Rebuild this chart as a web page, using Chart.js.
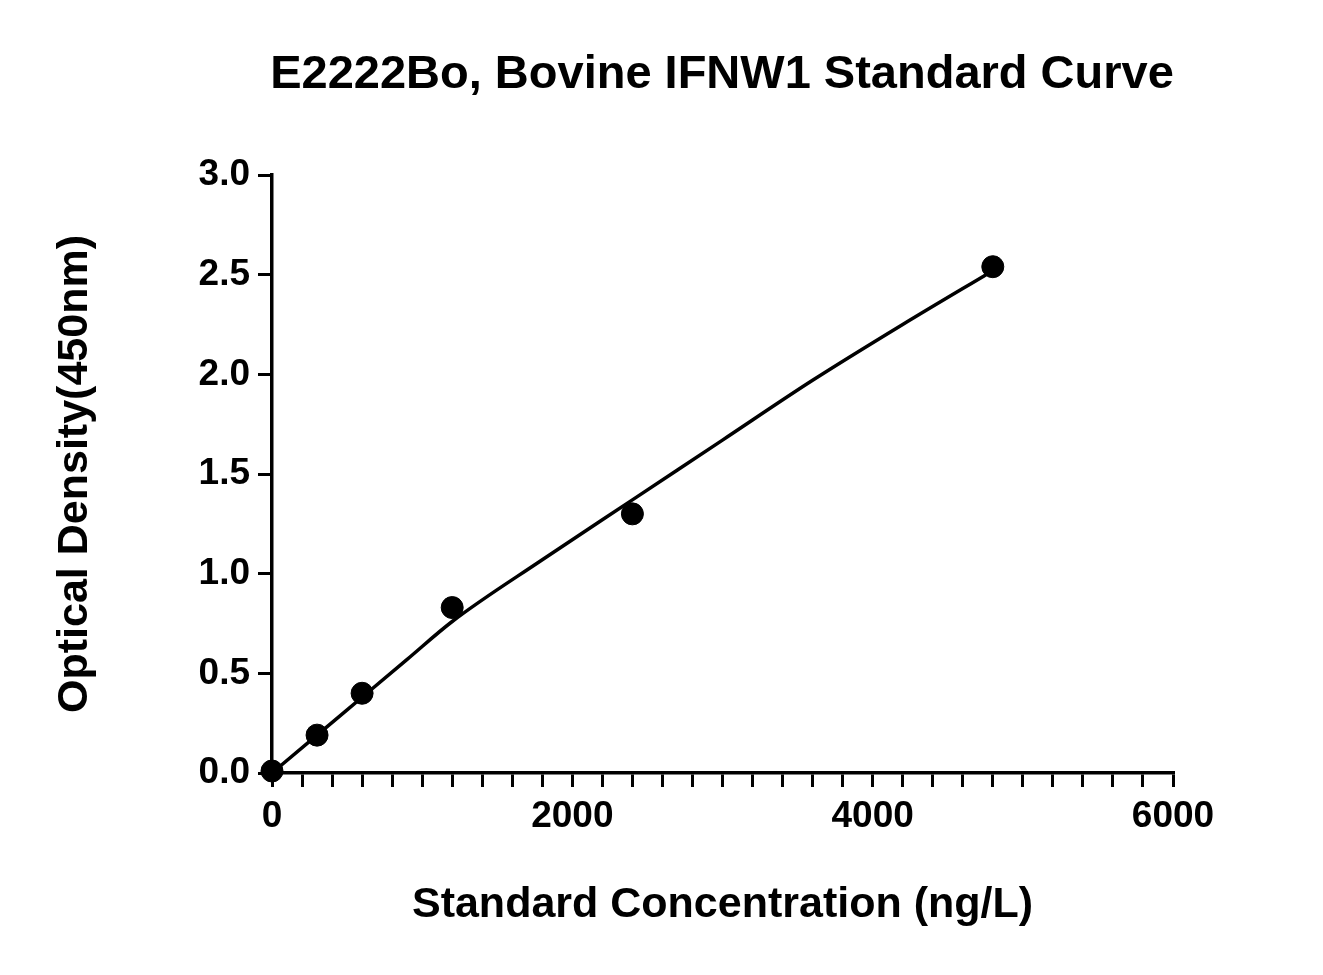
<!DOCTYPE html>
<html><head><meta charset="utf-8">
<script src="https://cdn.jsdelivr.net/npm/chart.js@4"></script>
<style>html,body{margin:0;padding:0;background:#fff}#w{width:1323px;height:975px}</style>
</head><body><div id="w"><canvas id="c"></canvas></div>
<script>
const concX = [0, 300, 600, 1200, 2400, 4800];
const odY = [0.01, 0.19, 0.40, 0.83, 1.30, 2.54];
const curveX = [0, 300, 600, 900, 1200, 1800, 2400, 3000, 3600, 4200, 4800];
const curveY = [0.0, 0.19, 0.38, 0.57, 0.76, 1.07, 1.37, 1.67, 1.97, 2.25, 2.52];
const titleText = 'E2222Bo, Bovine IFNW1 Standard Curve';
const F = 'Arial, "Liberation Sans", sans-serif';
const titlePlugin = {id:'t', afterDraw(ch){const c=ch.ctx;c.save();c.fillStyle='#000';c.font='bold 47px '+F;c.textAlign='center';c.textBaseline='middle';c.fillText(titleText,722,75);c.restore();}};
new Chart(document.getElementById('c'), {
  type:'scatter',
  data:{datasets:[
    {data:curveX.map((x,i)=>({x,y:curveY[i]})),showLine:true,borderColor:'#000',borderWidth:3.5,pointRadius:0,cubicInterpolationMode:'monotone',clip:false},
    {data:concX.map((x,i)=>({x,y:odY[i]})),pointRadius:11,pointBackgroundColor:'#000',pointBorderColor:'#000',showLine:false,clip:false}
  ]},
  options:{responsive:true,maintainAspectRatio:false,animation:false,
    layout:{padding:{top:175,right:150,left:45,bottom:40}},
    plugins:{legend:{display:false},tooltip:{enabled:false}},
    scales:{
      x:{type:'linear',min:0,max:6000,
        afterFit:s=>{s.height=162;},
        border:{color:'#000',width:3.5},
        grid:{drawOnChartArea:false,color:'#000',lineWidth:3,tickLength:14},
        ticks:{stepSize:200,autoSkip:false,maxRotation:0,color:'#000',font:{family:F,size:37,weight:'bold'},padding:8,
          callback:v=>v%2000===0?String(v):''},
        title:{display:true,text:'Standard Concentration (ng/L)',color:'#000',font:{family:F,size:43,weight:'bold'},padding:{top:12}}},
      y:{min:0,max:3,
        afterFit:s=>{s.width=227;},
        border:{color:'#000',width:3.5},
        grid:{drawOnChartArea:false,color:'#000',lineWidth:3,tickLength:14},
        ticks:{stepSize:0.5,color:'#000',font:{family:F,size:37,weight:'bold'},padding:8,callback:v=>v.toFixed(1)},
        title:{display:true,text:'Optical Density(450nm)',color:'#000',font:{family:F,size:43,weight:'bold'},padding:{bottom:20}}}
    }},
  plugins:[titlePlugin]
});
</script></body></html>
